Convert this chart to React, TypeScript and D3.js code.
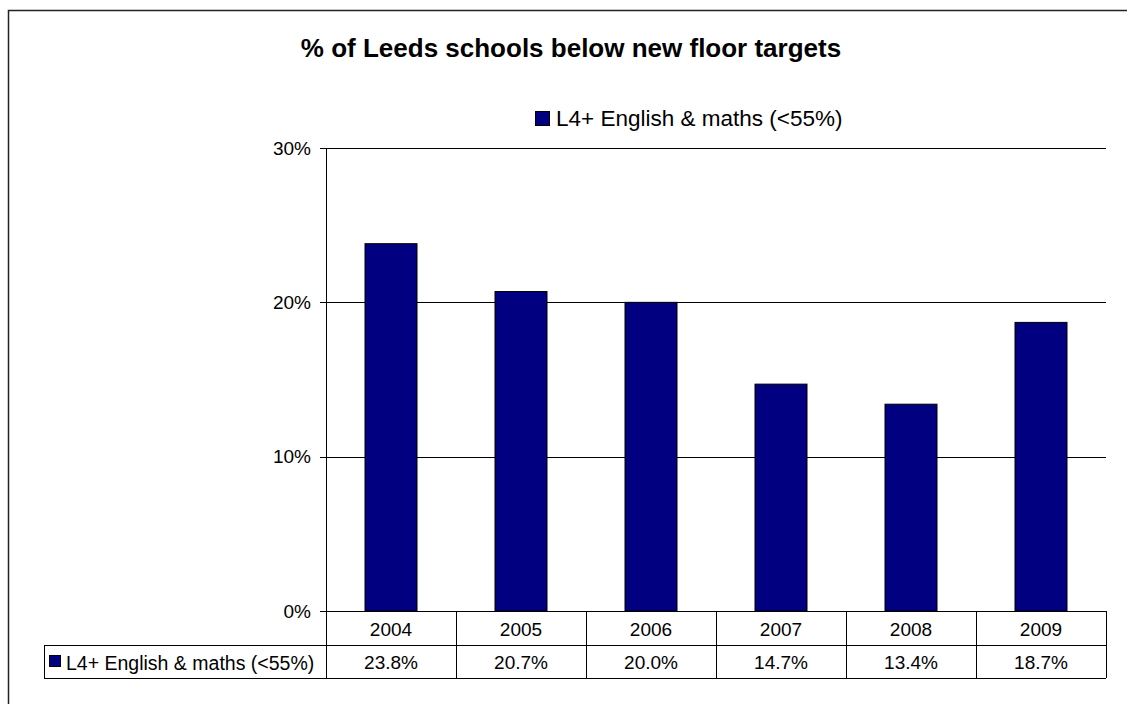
import React from "react";
import * as d3 from "d3";

const title = "% of Leeds schools below new floor targets";
const seriesName = "L4+ English & maths (<55%)";
const years = ["2004", "2005", "2006", "2007", "2008", "2009"];
const values = [23.8, 20.7, 20.0, 14.7, 13.4, 18.7];
const yTicks = [0, 10, 20, 30];

const W = 1127;
const H = 704;
const FONT = "'Liberation Sans', Arial, sans-serif";

export default function App() {
  const left = 326, right = 1106, top = 148, bottom = 611;
  const x = d3.scaleBand<string>().domain(years).range([left, right]).paddingInner(0).paddingOuter(0);
  const y = d3.scaleLinear().domain([0, 30]).range([bottom, top]);
  const bw = x.bandwidth() * 0.4;
  const row1 = 645, row2 = 678;
  const legCellLeft = 44;
  const fmt = (v: number) => v.toFixed(1) + "%";

  return (
    <svg width={W} height={H} style={{ position: "absolute", left: 0, top: 0 }} fontFamily={FONT}>
      <rect x={0} y={0} width={W} height={H} fill="#fff" />
      <rect x={8.5} y={10.5} width={1130} height={710} fill="none" stroke="#222" strokeWidth={1.5} />
      <text x={571} y={57} textAnchor="middle" fontWeight="bold" fontSize={26} fill="#000">{title}</text>

      {/* top legend */}
      <rect x={535.5} y={111.5} width={14} height={14} fill="#000080" stroke="#000" />
      <text x={556} y={118.5} dominantBaseline="central" fontSize={22.5} fill="#000">{seriesName}</text>

      {/* gridlines */}
      {yTicks.map((t) => (
        <g key={t}>
          <line x1={320} x2={right} y1={Math.round(y(t)) + 0.5} y2={Math.round(y(t)) + 0.5} stroke="#000" strokeWidth={1} />
          <text x={311} y={y(t)} textAnchor="end" dominantBaseline="central" fontSize={19} fill="#000">{t + "%"}</text>
        </g>
      ))}
      <line x1={left + 0.5} x2={left + 0.5} y1={top} y2={row2} stroke="#000" />

      {/* bars */}
      {values.map((v, i) => {
        const cx = (x(years[i]) as number) + x.bandwidth() / 2;
        return (
          <rect key={years[i]} x={cx - bw / 2} y={y(v)} width={bw} height={y(0) - y(v)} fill="#000080" stroke="#000" strokeWidth={1} />
        );
      })}

      {/* table */}
      <line x1={legCellLeft} x2={right} y1={row1 + 0.5} y2={row1 + 0.5} stroke="#000" />
      <line x1={legCellLeft} x2={right} y1={row2 + 0.5} y2={row2 + 0.5} stroke="#000" />
      <line x1={legCellLeft + 0.5} x2={legCellLeft + 0.5} y1={row1} y2={row2} stroke="#000" />
      {years.map((yr, i) => {
        const x0 = x(yr) as number;
        return (
          <g key={yr}>
            <line x1={Math.round(x0 + x.bandwidth()) + 0.5} x2={Math.round(x0 + x.bandwidth()) + 0.5} y1={bottom} y2={row2} stroke="#000" />
            <text x={x0 + x.bandwidth() / 2} y={(bottom + row1) / 2 + 1} textAnchor="middle" dominantBaseline="central" fontSize={19} fill="#000">{yr}</text>
            <text x={x0 + x.bandwidth() / 2} y={(row1 + row2) / 2 + 1} textAnchor="middle" dominantBaseline="central" fontSize={19} fill="#000">{fmt(values[i])}</text>
          </g>
        );
      })}
      <rect x={49.5} y={655.5} width={11} height={11} fill="#000080" stroke="#000" />
      <text x={66} y={(row1 + row2) / 2 + 1} dominantBaseline="central" fontSize={19.5} fill="#000">{seriesName}</text>
    </svg>
  );
}
